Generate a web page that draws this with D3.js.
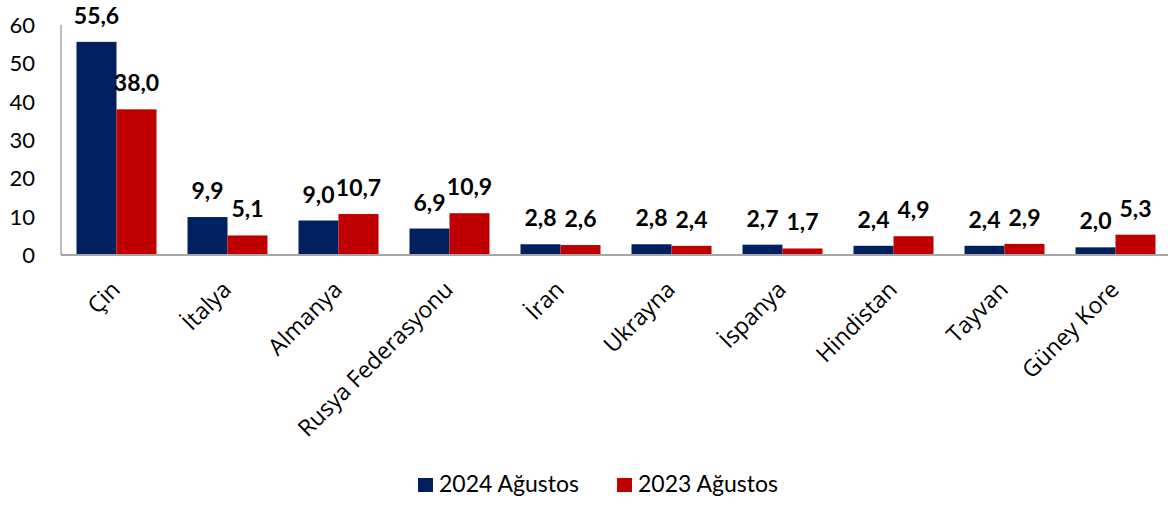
<!DOCTYPE html>
<html>
<head>
<meta charset="utf-8">
<script src="https://cdn.jsdelivr.net/npm/d3@7"></script>
<style>
  body { margin: 0; background: #fff; }
  svg { display: block; }
</style>
</head>
<body>
<div id="chart"></div>
<script>
// data
var countries = ["Çin", "İtalya", "Almanya", "Rusya Federasyonu", "İran", "Ukrayna", "İspanya", "Hindistan", "Tayvan", "Güney Kore"];
var values2024 = [55.6, 9.9, 9.0, 6.9, 2.8, 2.8, 2.7, 2.4, 2.4, 2.0];
var values2023 = [38.0, 5.1, 10.7, 10.9, 2.6, 2.4, 1.7, 4.9, 2.9, 5.3];
var seriesNames = ["2024 Ağustos", "2023 Ağustos"];
var yTicks = [0, 10, 20, 30, 40, 50, 60];

var colors = ["#002060", "#C00000"];
var W = 1168, H = 505;

const svg = d3.select("#chart").append("svg")
    .attr("width", W)
    .attr("height", H);

var x = d3.scaleBand()
    .domain(countries)
    .range([61, 1171]);

var inner = d3.scaleBand()
    .domain([0, 1])
    .range([15.5, x.bandwidth() - 15.5]);

var y = d3.scaleLinear()
    .domain([0, 60])
    .range([255, 25]);

var series = [values2024, values2023];

// bars
series.forEach(function(vals, s) {
    svg.append("g")
        .selectAll("rect")
        .data(vals)
        .join("rect")
        .attr("x", (d, i) => x(countries[i]) + inner(s))
        .attr("y", d => y(d))
        .attr("width", inner.bandwidth())
        .attr("height", d => y(0) - y(d))
        .style("fill", colors[s]);
});

// value labels
series.forEach(function(vals, s) {
    svg.append("g")
        .selectAll("text")
        .data(vals)
        .join("text")
        .attr("x", (d, i) => x(countries[i]) + inner(s) + inner.bandwidth() / 2)
        .attr("y", d => y(d) - 18)
        .attr("text-anchor", "middle")
        .style("font-family", "Lato, sans-serif")
        .style("font-weight", "bold")
        .style("font-size", "23px")
        .style("fill", "#000")
        .text(d => d3.format(".1f")(d).replace(".", ","));
});

// axis lines
svg.append("path")
    .attr("d", "M 61 " + y(0) + " L 1168 " + y(0))
    .attr("stroke", "#a6a6a6")
    .attr("stroke-width", 2)
    .attr("fill", "none");
svg.append("path")
    .attr("d", "M 61 " + y(60) + " L 61 " + y(0))
    .attr("stroke", "#a6a6a6")
    .attr("stroke-width", 1.5)
    .attr("fill", "none");

// y tick labels
svg.append("g")
    .selectAll("text")
    .data(yTicks)
    .join("text")
    .attr("x", 35)
    .attr("y", d => y(d))
    .attr("dy", "0.36em")
    .attr("text-anchor", "end")
    .style("font-family", "Lato, sans-serif")
    .style("font-size", "22px")
    .style("fill", "#000")
    .text(d => d);

// category labels
svg.append("g")
    .selectAll("text")
    .data(countries)
    .join("text")
    .attr("transform", d => "translate(" + (x(d) + x.bandwidth() / 2 + 5) + ",291) rotate(-45)")
    .attr("text-anchor", "end")
    .style("font-family", "'Open Sans', sans-serif")
    .style("font-size", "23px")
    .style("fill", "#000")
    .text(d => d);

// legend
var legendX = [418, 617];
var legend = svg.append("g");
seriesNames.forEach(function(name, s) {
    legend.append("rect")
        .attr("x", legendX[s])
        .attr("y", 478)
        .attr("width", 15)
        .attr("height", 14)
        .style("fill", colors[s]);
    legend.append("text")
        .attr("x", legendX[s] + 21)
        .attr("y", 492)
        .style("font-family", "Lato, sans-serif")
        .style("font-size", "23px")
        .style("fill", "#000")
        .text(name);
});
</script>
</body>
</html>
